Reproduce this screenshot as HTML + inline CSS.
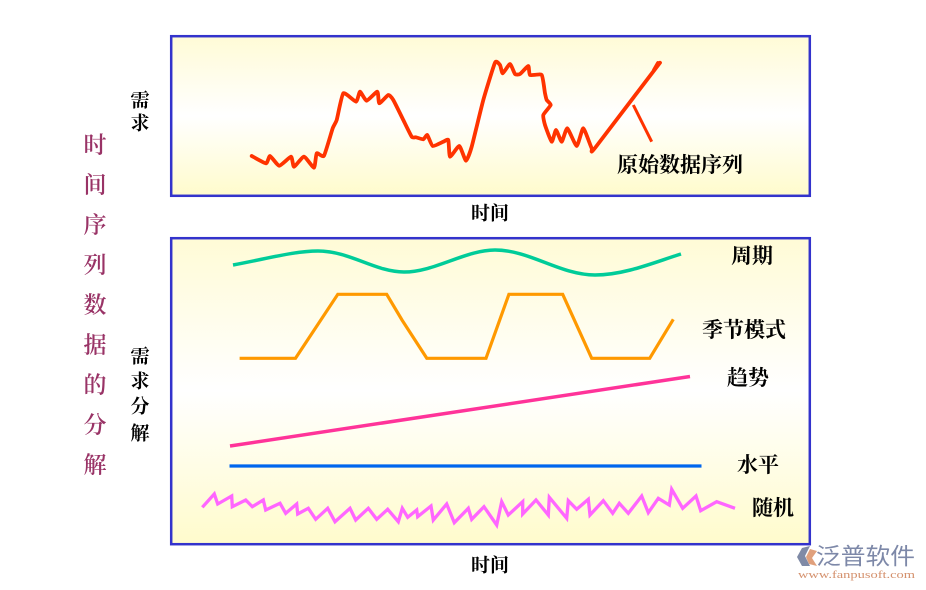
<!DOCTYPE html>
<html>
<head>
<meta charset="utf-8">
<style>
  html,body{margin:0;padding:0;background:#fff;}
  svg{display:block;}
  .lbl{font-family:"Liberation Serif","Noto Serif CJK SC","Noto Sans CJK SC",serif;font-weight:bold;fill:#000;}
  .ttl{font-family:"Liberation Serif","Noto Serif CJK SC","Noto Sans CJK SC",serif;fill:#993366;font-weight:600;}
</style>
</head>
<body>
<svg width="926" height="590" viewBox="0 0 926 590" xmlns="http://www.w3.org/2000/svg">
  <defs>
    <linearGradient id="bg" x1="0" y1="0" x2="0" y2="1">
      <stop offset="0" stop-color="#fffbd6"/>
      <stop offset="0.5" stop-color="#ffffff"/>
      <stop offset="1" stop-color="#fffbcc"/>
    </linearGradient>
  </defs>

  <!-- boxes -->
  <rect x="171.2" y="36.2" width="638.6" height="159.6" fill="url(#bg)" stroke="#3333cc" stroke-width="2.5"/>
  <rect x="171.2" y="238.2" width="638.6" height="306" fill="url(#bg)" stroke="#3333cc" stroke-width="2.5"/>

  <!-- original series -->
  <path id="redline" d="M251.7,156 L266,163.3 L270,156 L279.3,165.7 L291,156.7 L294,166.7 L304,156.7 L314,167.7 L316.7,153.3 L324,155.7 L332.7,128.3 L336.7,120 L343.3,93.3 L356,101.7 L360,91.7 L366.7,100.7 L377.3,91.7 L379.3,103.3 L388.3,95 L393.3,100 L403.3,120 L411.7,136.7 L416,137.3 L423.3,139.3 L427.3,135 L432.7,146 L443.3,141.7 L448.3,140 L450,156.7 L459.3,146 L466,160.7 L471.7,146.7 L483.3,100 L495,62.7 L500,65 L502.7,73.3 L510,64 L515,74 L520,74 L528.3,66 L530,75 L541.7,75 L545,93.3 L546.7,100 L550.7,105 L543.3,115 L545,125 L551.7,141.7 L556,130 L561.7,141.7 L567.3,128.3 L576.7,146 L583.3,128.3 L591.7,148.3 L595,148 L660,62.7" fill="none" stroke="#ff3300" stroke-width="3.8" stroke-linejoin="round" stroke-linecap="round"/>
  <path d="M654,70 L658,63" fill="none" stroke="#ff3300" stroke-width="3.8" stroke-linecap="round"/>
  <line x1="633.3" y1="105" x2="651.7" y2="141.7" stroke="#ff3300" stroke-width="3"/>

  <!-- cycle -->
  <path d="M233,265 C270,258 295,251 318,251 C350,251 375,272 404,272 C435,272 465,250 495,250 C530,250 560,275 595,275 C625,275 655,262 681,254" fill="none" stroke="#00cc99" stroke-width="3.5"/>

  <!-- seasonal -->
  <polyline points="239.6,358.3 295.5,358.3 337.8,294.3 386.7,294.3 402,320 426.8,358.3 486,358.3 508.9,294.3 562.7,294.3 591.7,358.3 649.7,358.3 673.3,319.3" fill="none" stroke="#ff9900" stroke-width="3.2"/>

  <!-- trend -->
  <line x1="230" y1="446" x2="690" y2="376.5" stroke="#ff3399" stroke-width="3.5"/>

  <!-- level -->
  <line x1="229.5" y1="466" x2="701.5" y2="466" stroke="#0066ee" stroke-width="3.2"/>

  <!-- random -->
  <path d="M202.3,507.3 L214.3,494 L217.7,504 L231.7,496 L232.3,506.7 L245.7,500 L252.3,506.7 L263.3,500 L265.7,510 L280,503.3 L285.7,513.3 L296.7,504 L297.7,514 L308.3,508.3 L315.7,519.3 L327.7,508.3 L335,521.7 L350,508.3 L355.7,520 L368.3,508.3 L376.7,519.3 L387.7,509.3 L398.3,521.7 L402.3,508.3 L407.7,517.3 L416.7,510 L417.7,516.7 L431,506 L433.3,520 L446.7,504 L454.3,522.7 L468.3,508.3 L471.7,519.3 L484,506.7 L496.7,525 L501.7,501.7 L508.3,515 L522.7,501.7 L522.7,514 L536,500 L548.3,515 L549.3,497.3 L566.7,518.3 L568.3,500.7 L576.7,509.3 L588.3,499.3 L590,515 L603.3,500.7 L612.7,513.3 L619.3,503.3 L628.3,513.3 L641.7,496 L648.3,512.7 L658.3,498.3 L669.3,505 L671.7,489.3 L682.7,508.3 L696,496 L700.7,510.7 L716.7,501.7 L735,508.3" fill="none" stroke="#ff66ff" stroke-width="3.3" stroke-linejoin="miter"/>

  <!-- left title -->
  <g class="ttl" font-size="23" text-anchor="middle" dominant-baseline="central">
    <text x="95" y="145">时</text>
    <text x="95" y="185">间</text>
    <text x="95" y="225">序</text>
    <text x="95" y="265">列</text>
    <text x="95" y="305">数</text>
    <text x="95" y="345">据</text>
    <text x="95" y="385">的</text>
    <text x="95" y="425">分</text>
    <text x="95" y="465">解</text>
  </g>

  <!-- y labels -->
  <g class="lbl" font-size="19" text-anchor="middle" dominant-baseline="central">
    <text x="140" y="101">需</text>
    <text x="140" y="124">求</text>
    <text x="140" y="357">需</text>
    <text x="140" y="382">求</text>
    <text x="140" y="407">分</text>
    <text x="140" y="434">解</text>
  </g>

  <!-- x labels -->
  <g class="lbl" font-size="19" text-anchor="middle" dominant-baseline="central">
    <text x="490" y="214">时间</text>
    <text x="490" y="566">时间</text>
  </g>

  <!-- series labels -->
  <g class="lbl" font-size="21" dominant-baseline="central">
    <text x="617" y="165">原始数据序列</text>
    <text x="731" y="256">周期</text>
    <text x="702" y="330">季节模式</text>
    <text x="727" y="378">趋势</text>
    <text x="737" y="465">水平</text>
    <text x="752" y="508">随机</text>
  </g>

  <!-- logo -->
  <g>
    <polygon points="802,548 810,546 805,556 810,566 802,566 797,557" fill="#7f8aa6"/>
    <polygon points="810,549 817,551 812,558 817,566 809,564 806,557" fill="#e0a07c"/>
    <text x="816" y="556" font-family="'Liberation Sans','Noto Sans CJK SC',sans-serif" font-size="23" fill="#7d88a8" dominant-baseline="central" textLength="99" lengthAdjust="spacingAndGlyphs">泛普软件</text>
    <text x="798" y="575" font-family="'Liberation Serif',serif" font-size="11" fill="#d4906c" dominant-baseline="central" textLength="117" lengthAdjust="spacingAndGlyphs">www.fanpusoft.com</text>
  </g>
</svg>
<script>
(function(){
  try{
    var p=document.getElementById('redline');
    var d=p.getAttribute('d');
    var nums=d.replace(/[ML]/g,' ').trim().split(/[\s,]+/).map(Number);
    var pts=[];
    for(var i=0;i<nums.length;i+=2)pts.push([nums[i],nums[i+1]]);
    var n=pts.length, t=0.5;
    var s='M'+pts[0][0]+','+pts[0][1];
    for(var i=0;i<n-1;i++){
      var p0=pts[i>0?i-1:i],p1=pts[i],p2=pts[i+1],p3=pts[i+2<n?i+2:i+1];
      if(i==n-2){s+=' L'+p2[0]+','+p2[1];continue;}
      var c1x=p1[0]+(p2[0]-p0[0])/6*t*2*0.5, c1y=p1[1]+(p2[1]-p0[1])/6*t*2*0.5;
      var c2x=p2[0]-(p3[0]-p1[0])/6*t*2*0.5, c2y=p2[1]-(p3[1]-p1[1])/6*t*2*0.5;
      s+=' C'+c1x.toFixed(2)+','+c1y.toFixed(2)+' '+c2x.toFixed(2)+','+c2y.toFixed(2)+' '+p2[0]+','+p2[1];
    }
    p.setAttribute('d',s);
  }catch(e){}
})();
</script>
</body>
</html>
